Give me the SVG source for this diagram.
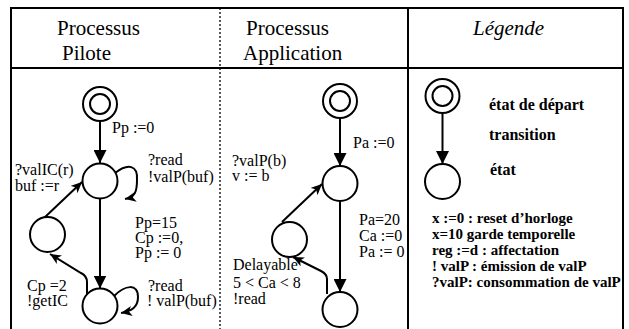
<svg xmlns="http://www.w3.org/2000/svg" width="629" height="329" viewBox="0 0 629 329">
<style>
.frame{fill:none;stroke:#000;stroke-width:2}
.st{fill:#fff;stroke:#000;stroke-width:2}
.ln{fill:none;stroke:#000;stroke-width:2}
.hd{font-family:"Liberation Serif","Times New Roman",serif;font-size:21px;fill:#000}
.t{font-family:"Liberation Serif","Times New Roman",serif;font-size:16px;fill:#000}
.b{font-family:"Liberation Serif","Times New Roman",serif;font-size:15px;font-weight:bold;fill:#000}
.bl{font-family:"Liberation Serif","Times New Roman",serif;font-size:16px;font-weight:bold;fill:#000}
</style>
<defs>
<marker id="big" markerUnits="userSpaceOnUse" markerWidth="14" markerHeight="13" refX="13" refY="6.5" orient="auto"><path d="M0,0 L13,6.5 L0,13 z" fill="#000"/></marker>
<marker id="sm" markerUnits="userSpaceOnUse" markerWidth="12" markerHeight="10" refX="11" refY="5" orient="auto"><path d="M0,0 L11,5 L0,10 L3,5 z" fill="#000"/></marker>
</defs>
<rect width="629" height="329" fill="#fff"/>
<g id="frame">
<path class="frame" d="M11,340 L11,8 L623,8 L623,340"/>
<line class="frame" x1="11" y1="68" x2="623" y2="68"/>
<line x1="220" y1="8" x2="220" y2="340" stroke="#000" stroke-width="1.3" stroke-dasharray="2 2"/>
<line class="frame" x1="408" y1="8" x2="408" y2="340"/>
<text class="hd" x="57" y="35" textLength="83" lengthAdjust="spacingAndGlyphs">Processus</text>
<text class="hd" x="62" y="60">Pilote</text>
<text class="hd" x="246" y="35" textLength="83" lengthAdjust="spacingAndGlyphs">Processus</text>
<text class="hd" x="243" y="60">Application</text>
<text class="hd" x="473" y="35" font-style="italic">Légende</text>
</g>
<g id="connectors">
<line class="ln" x1="100" y1="121" x2="100" y2="163" marker-end="url(#big)"/>
<path class="ln" d="M115,173 C128,163 138,165 137,180 C137,192 135,197 125,199" marker-end="url(#sm)"/>
<line class="ln" x1="100" y1="198.5" x2="100" y2="288.5" marker-end="url(#big)"/>
<line class="ln" x1="44" y1="218" x2="82" y2="182" marker-end="url(#sm)"/>
<path class="ln" d="M87,295 L87,282 Q87,276 81,273 L50,254" marker-end="url(#sm)"/>
<path class="ln" d="M114,296 C125,285 138,283 138,297 C138,307 132,311 121,313" marker-end="url(#sm)"/>
<line class="ln" x1="340" y1="118" x2="340" y2="166" marker-end="url(#big)"/>
<line class="ln" x1="340" y1="201" x2="340" y2="292" marker-end="url(#big)"/>
<line class="ln" x1="282" y1="222" x2="322" y2="184" marker-end="url(#sm)"/>
<path class="ln" d="M327,294 L327,279 Q327,274 321,271 L293,257" marker-end="url(#sm)"/>
<line class="ln" x1="442.5" y1="113" x2="442.5" y2="164" marker-end="url(#big)"/>
</g>
<g id="pilote-start"><circle class="st" cx="100" cy="104" r="17"/><circle class="st" cx="100" cy="104" r="10"/></g>
<g id="pilote-s1"><circle class="st" cx="100" cy="181" r="17.5"/></g>
<g id="pilote-s2"><circle class="st" cx="47.5" cy="234.5" r="17.5"/></g>
<g id="pilote-s3"><circle class="st" cx="100" cy="306" r="17.5"/></g>
<g id="app-start"><circle class="st" cx="340" cy="101" r="17"/><circle class="st" cx="340" cy="101" r="10"/></g>
<g id="app-s1"><circle class="st" cx="340" cy="183.5" r="17.5"/></g>
<g id="app-s2"><circle class="st" cx="289.5" cy="239.5" r="17.5"/></g>
<g id="app-s3"><circle class="st" cx="340" cy="309.5" r="17.5"/></g>
<g id="leg-start"><circle class="st" cx="442.5" cy="96" r="17"/><circle class="st" cx="442.5" cy="96" r="10"/></g>
<g id="leg-state"><circle class="st" cx="442.5" cy="181.5" r="17.5"/></g>
<g id="labels">
<text class="t" x="112" y="133">Pp :=0</text>
<text class="t" x="148" y="165">?read</text>
<text class="t" x="148" y="182">!valP(buf)</text>
<text class="t" x="15" y="175">?valIC(r)</text>
<text class="t" x="15" y="191">buf :=r</text>
<text class="t" x="135" y="228">Pp=15</text>
<text class="t" x="135" y="243">Cp :=0,</text>
<text class="t" x="135" y="258">Pp := 0</text>
<text class="t" x="27" y="291">Cp =2</text>
<text class="t" x="27" y="306">!getIC</text>
<text class="t" x="148" y="291">?read</text>
<text class="t" x="147" y="306">! valP(buf)</text>
<text class="t" x="353" y="148">Pa :=0</text>
<text class="t" x="232" y="166">?valP(b)</text>
<text class="t" x="232" y="181">v := b</text>
<text class="t" x="359" y="225">Pa=20</text>
<text class="t" x="359" y="241">Ca :=0</text>
<text class="t" x="359" y="257">Pa := 0</text>
<text class="t" x="233" y="270">Delayable</text>
<text class="t" x="233" y="288">5 &lt; Ca &lt; 8</text>
<text class="t" x="233" y="304">!read</text>
<text class="bl" x="489" y="110">état de départ</text>
<text class="bl" x="489" y="140">transition</text>
<text class="bl" x="490" y="175">état</text>
<text class="b" x="432" y="223">x :=0 : reset d’horloge</text>
<text class="b" x="432" y="239">x=10 garde temporelle</text>
<text class="b" x="432" y="255">reg :=d : affectation</text>
<text class="b" x="432" y="271">! valP : émission de valP</text>
<text class="b" x="432" y="287">?valP: consommation de valP</text>
</g>
</svg>
